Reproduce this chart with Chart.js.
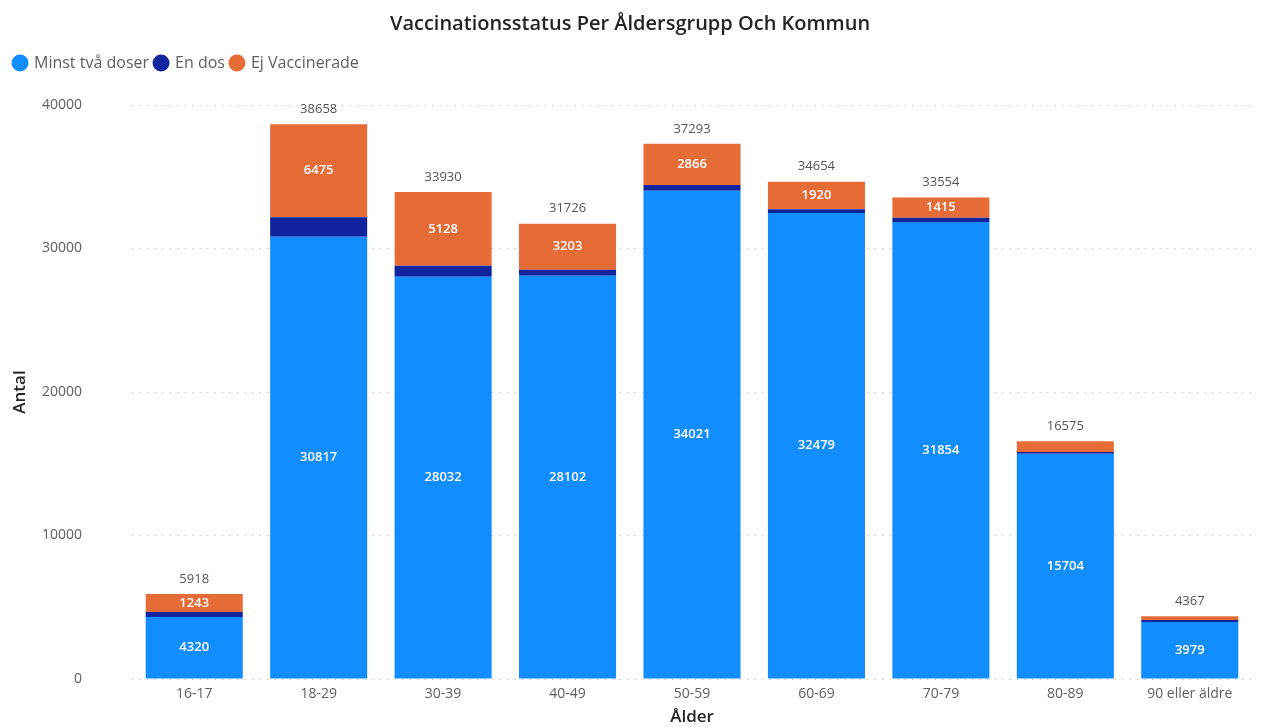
<!DOCTYPE html>
<html>
<head>
<meta charset="utf-8">
<script src="https://cdn.jsdelivr.net/npm/chart.js@4/dist/chart.umd.min.js"></script>
<style>
  body { margin: 0; background: #fff; }
  #wrap { width: 1270px; height: 728px; }
</style>
</head>
<body>
<div id="wrap"><canvas id="chart"></canvas></div>
<script>
// Data
const ageGroups = ['16-17', '18-29', '30-39', '40-49', '50-59', '60-69', '70-79', '80-89', '90 eller äldre'];
const twoDoses = [4320, 30817, 28032, 28102, 34021, 32479, 31854, 15704, 3979];
const oneDose = [355, 1366, 770, 421, 406, 255, 285, 120, 130];
const notVaccinated = [1243, 6475, 5128, 3203, 2866, 1920, 1415, 751, 258];
const totals = [5918, 38658, 33930, 31726, 37293, 34654, 33554, 16575, 4367];
const yTicks = [0, 10000, 20000, 30000, 40000];

const fontFamily = "'Open Sans', 'Noto Sans', sans-serif";

// Draws the value labels inside segments and the totals on top
const labelPlugin = {
    id: 'labels',
    afterDatasetsDraw(chart) {
        const ctx = chart.ctx;
        ctx.save();
        ctx.textAlign = 'center';
        ctx.textBaseline = 'middle';
        [0, 2].forEach(function(di) {
            const meta = chart.getDatasetMeta(di);
            meta.data.forEach(function(bar, i) {
                const h = Math.abs(bar.base - bar.y);
                if (h < 14) return;
                ctx.fillStyle = '#ffffff';
                ctx.font = '600 13px ' + fontFamily;
                ctx.fillText(chart.data.datasets[di].data[i], bar.x, (bar.y + bar.base) / 2);
            });
        });
        const top = chart.getDatasetMeta(2);
        top.data.forEach(function(bar, i) {
            ctx.fillStyle = '#555555';
            ctx.font = '13px ' + fontFamily;
            ctx.fillText(totals[i], bar.x, bar.y - 15);
        });
        ctx.restore();
    }
};

// Extra room below the legend
const legendGap = {
    id: 'legendGap',
    beforeInit(chart) {
        const fit = chart.legend.fit;
        chart.legend.fit = function() {
            fit.bind(chart.legend)();
            this.height += 24;
        };
    }
};

new Chart(document.getElementById('chart'), {
    type: 'bar',
    data: {
        labels: ageGroups,
        datasets: [
            { label: 'Minst två doser', data: twoDoses, backgroundColor: '#118DFF' },
            { label: 'En dos', data: oneDose, backgroundColor: '#12239E' },
            { label: 'Ej Vaccinerade', data: notVaccinated, backgroundColor: '#E66C37' }
        ]
    },
    options: {
        responsive: true,
        maintainAspectRatio: false,
        animation: false,
        layout: { padding: { left: 8, right: 18, top: 12, bottom: 0 } },
        datasets: {
            bar: { barPercentage: 0.78, categoryPercentage: 1 }
        },
        plugins: {
            title: {
                display: true,
                text: 'Vaccinationsstatus Per Åldersgrupp Och Kommun',
                color: '#252423',
                font: { family: fontFamily, size: 20, weight: '600' },
                padding: { top: 0, bottom: 13 }
            },
            legend: {
                align: 'start',
                labels: {
                    usePointStyle: true,
                    pointStyle: 'circle',
                    boxWidth: 12,
                    boxHeight: 12,
                    padding: 6,
                    color: '#605E5C',
                    font: { family: fontFamily, size: 16 }
                }
            },
            tooltip: { enabled: false }
        },
        scales: {
            x: {
                stacked: true,
                grid: { display: false, drawTicks: false },
                border: { display: false },
                ticks: { color: '#605E5C', font: { family: fontFamily, size: 14 }, padding: 7 },
                afterFit: function(axis) { axis.height = 49; },
                title: {
                    display: true,
                    text: 'Ålder',
                    color: '#252423',
                    font: { family: fontFamily, size: 17, weight: '600' },
                    padding: { top: 0, bottom: 1 }
                }
            },
            y: {
                stacked: true,
                min: 0,
                max: 40000,
                afterBuildTicks: function(axis) {
                    axis.ticks = yTicks.map(v => ({ value: v }));
                },
                afterFit: function(axis) {
                    // the big tick padding should not push the plot area
                    axis.width = 124;
                    axis.paddingTop = 0;
                    axis.paddingBottom = 0;
                },
                grid: { color: '#C8C8C8', lineWidth: 1, drawTicks: false },
                border: { display: false, dash: [1.5, 6] },
                ticks: {
                    color: '#605E5C',
                    font: { family: fontFamily, size: 14 },
                    padding: 50,
                    callback: function(value) { return String(value); }
                },
                title: {
                    display: true,
                    text: 'Antal',
                    color: '#252423',
                    font: { family: fontFamily, size: 17, weight: '600' },
                    padding: { top: 2, bottom: 0 }
                }
            }
        }
    },
    plugins: [labelPlugin, legendGap]
});
</script>
</body>
</html>
